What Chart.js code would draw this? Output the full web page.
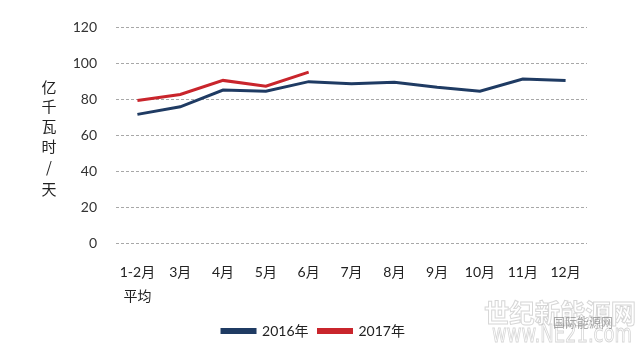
<!DOCTYPE html>
<html>
<head>
<meta charset="utf-8">
<script src="https://cdn.jsdelivr.net/npm/chart.js@4/dist/chart.umd.min.js"></script>
<style>
html,body{margin:0;padding:0;background:#fff;}
#wrap{width:640px;height:353px;position:relative;}
</style>
</head>
<body>
<div id="wrap"><canvas id="c" width="640" height="353"></canvas></div>
<script>
const categories = [['1-2月','平均'],'3月','4月','5月','6月','7月','8月','9月','10月','11月','12月'];
const series2016 = [71.6, 75.8, 85.1, 84.5, 89.8, 88.7, 89.5, 86.7, 84.5, 91.3, 90.5];
const series2017 = [79.3, 82.7, 90.5, 87.3, 95.1];
const yTicks = [0, 20, 40, 60, 80, 100, 120];
const yTitleChars = ['亿','千','瓦','时','/','天'];
const watermark = ['世纪新能源网', 'www.NE21.com', '国际能源网'];

const FONT = "Lato, 'Noto Sans CJK SC', sans-serif";

const yTitlePlugin = {
  id: 'yTitle',
  afterDraw(chart) {
    const ctx = chart.ctx;
    ctx.save();
    ctx.fillStyle = '#222';
    ctx.font = "15px 'Noto Sans CJK SC', sans-serif";
    ctx.textAlign = 'center';
    ctx.textBaseline = 'middle';
    const ys = [87, 106, 126, 146, 167, 189];
    yTitleChars.forEach((ch, i) => ctx.fillText(ch, 49, ys[i]));
    // watermark
    ctx.globalAlpha = 0.55;
    ctx.strokeStyle = '#b5b5b5';
    ctx.lineWidth = 1;
    ctx.font = "bold 26px 'Noto Sans CJK SC', sans-serif";
    ctx.strokeText(watermark[0], 560, 313, 152);
    ctx.font = "24px 'DejaVu Sans', sans-serif";
    ctx.strokeText(watermark[1], 562, 336, 140);
    ctx.globalAlpha = 0.6;
    ctx.fillStyle = '#777';
    ctx.font = "13px 'Noto Sans CJK SC', sans-serif";
    ctx.fillText(watermark[2], 583, 322, 60);
    ctx.restore();
  }
};

new Chart(document.getElementById('c'), {
  type: 'line',
  data: {
    labels: categories,
    datasets: [
      { label: '2016年', data: series2016, borderColor: '#1F3B63', backgroundColor: '#1F3B63', borderWidth: 3, pointRadius: 0, tension: 0, fill: false },
      { label: '2017年', data: series2017, borderColor: '#C9252C', backgroundColor: '#C9252C', borderWidth: 3, pointRadius: 0, tension: 0, fill: false }
    ]
  },
  options: {
    responsive: false,
    animation: false,
    layout: { padding: { top: 19, right: 53, bottom: 5, left: 40 } },
    plugins: {
      legend: {
        position: 'bottom',
        labels: {
          boxWidth: 33, boxHeight: 3, color: '#222', padding: 10,
          font: { size: 14, family: FONT }
        }
      },
      tooltip: { enabled: false }
    },
    scales: {
      x: {
        offset: true,
        grid: { display: false },
        border: { display: false },
        ticks: { color: '#222', padding: 10, maxRotation: 0, autoSkip: false, font: { size: 14, family: FONT, lineHeight: 1.7 } },
        afterFit(s) { s.height = 71; }
      },
      y: {
        min: 0, max: 120,
        afterBuildTicks(s) { s.ticks = yTicks.map(v => ({ value: v })); },
        grid: { color: '#a8a8a8', lineWidth: 1, drawTicks: false },
        border: { display: false, dash: [3, 2] },
        ticks: { color: '#333', padding: 19, font: { size: 14, family: FONT } },
        afterFit(s) { s.width = 76; }
      }
    }
  },
  plugins: [yTitlePlugin]
});
</script>
</body>
</html>
